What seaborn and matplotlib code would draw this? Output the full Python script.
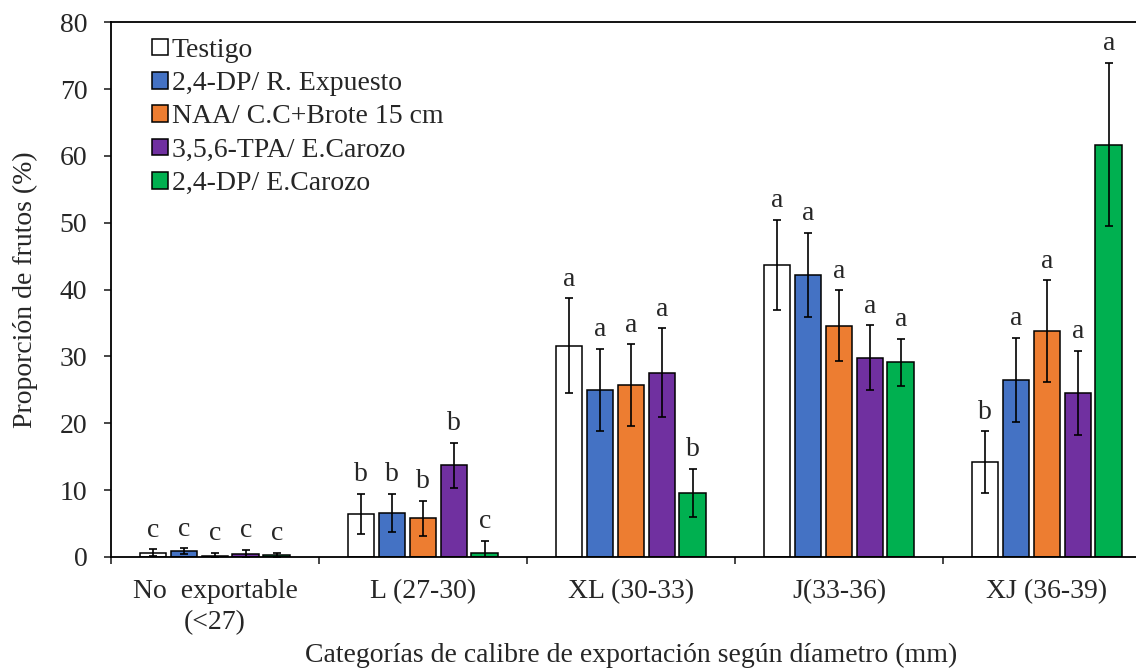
import pandas as pd
import matplotlib.pyplot as plt
import numpy as np
import seaborn as sns

categories = ["No  exportable\n(<27)", "L (27-30)", "XL (30-33)", "J(33-36)", "XJ (36-39)"]
treatments = ["Testigo", "2,4-DP/ R. Expuesto", "NAA/ C.C+Brote 15 cm",
              "3,5,6-TPA/ E.Carozo", "2,4-DP/ E.Carozo"]
colors = ["#FFFFFF", "#4472C4", "#ED7D31", "#7030A0", "#00B050"]

# mean proportion per treatment, one value per category
testigo = [0.65, 6.4, 31.6, 43.7, 14.2]
dp_expuesto = [0.85, 6.6, 25.0, 42.2, 26.5]
naa = [0.2, 5.8, 25.7, 34.6, 33.8]
tpa = [0.45, 13.7, 27.6, 29.8, 24.5]
dp_carozo = [0.35, 0.55, 9.6, 29.1, 61.7]

# error bar half-lengths
err_testigo = [0.5, 3.0, 7.1, 6.7, 4.6]
err_dp_expuesto = [0.45, 2.8, 6.1, 6.3, 6.3]
err_naa = [0.4, 2.6, 6.1, 5.3, 7.6]
err_tpa = [0.6, 3.4, 6.6, 4.85, 6.3]
err_dp_carozo = [0.3, 1.85, 3.6, 3.5, 12.2]

# significance letters
let_testigo = ["c", "b", "a", "a", "b"]
let_dp_expuesto = ["c", "b", "a", "a", "a"]
let_naa = ["c", "b", "a", "a", "a"]
let_tpa = ["c", "b", "a", "a", "a"]
let_dp_carozo = ["c", "c", "b", "a", "a"]

means = [testigo, dp_expuesto, naa, tpa, dp_carozo]
errs = [err_testigo, err_dp_expuesto, err_naa, err_tpa, err_dp_carozo]
letters = [let_testigo, let_dp_expuesto, let_naa, let_tpa, let_dp_carozo]

rows = []
for t, vals in zip(treatments, means):
    for c, v in zip(categories, vals):
        rows.append({"cat": c, "trat": t, "val": v})
df = pd.DataFrame(rows)

sns.set_style("ticks")
plt.rcParams['font.family'] = ['Liberation Serif', 'DejaVu Serif']
fs = 20

fig = plt.figure(figsize=(11.36, 6.7), dpi=100)
ax = fig.add_axes([0.0977, 0.1687, 0.9155, 0.798])

sns.barplot(data=df, x="cat", y="val", hue="trat", order=categories, hue_order=treatments,
            palette=colors, width=0.745, gap=0.13, edgecolor="black", linewidth=1.1,
            errorbar=None, ax=ax, saturation=1)

bar_groups = list(ax.containers)
for i, cont in enumerate(bar_groups):
    xs = [b.get_x() + b.get_width() / 2 for b in cont]
    ax.errorbar(xs, means[i], yerr=errs[i], fmt="none", ecolor="black",
                elinewidth=1.2, capsize=3, capthick=1.2, zorder=5)
    for x, m, e, l in zip(xs, means[i], errs[i], letters[i]):
        ax.text(x, m + e + 1.0, l, ha="center", va="bottom", fontsize=fs)

ax.set_ylim(0, 80)
ax.set_xlim(-0.5, 4.5)
ax.set_yticks(range(0, 81, 10))
ax.tick_params(axis="y", labelsize=fs, direction="out", length=5, width=1.2, pad=12)
ax.tick_params(axis="x", which="major", labelsize=fs, length=0, pad=16)
ax.set_xticks(np.arange(-0.5, 4.6, 1.0), minor=True)
ax.tick_params(axis="x", which="minor", direction="out", length=5, width=1.2)
for lab in ax.get_xticklabels():
    lab.set_linespacing(1.3)

ax.set_xlabel("Categorías de calibre de exportación según díametro (mm)", fontsize=fs, labelpad=6)
ax.set_ylabel("Proporción de frutos (%)", fontsize=fs, labelpad=16)

for s in ["left", "bottom", "top"]:
    ax.spines[s].set_linewidth(1.3)
    ax.spines[s].set_color("black")
ax.spines["right"].set_visible(False)

ax.legend(loc="upper left", bbox_to_anchor=(0.029, 0.992), frameon=False, fontsize=fs,
          handlelength=0.55, handleheight=0.55, handletextpad=0.15, labelspacing=0.3,
          borderaxespad=0)

fig.savefig("out.png", dpi=100)
